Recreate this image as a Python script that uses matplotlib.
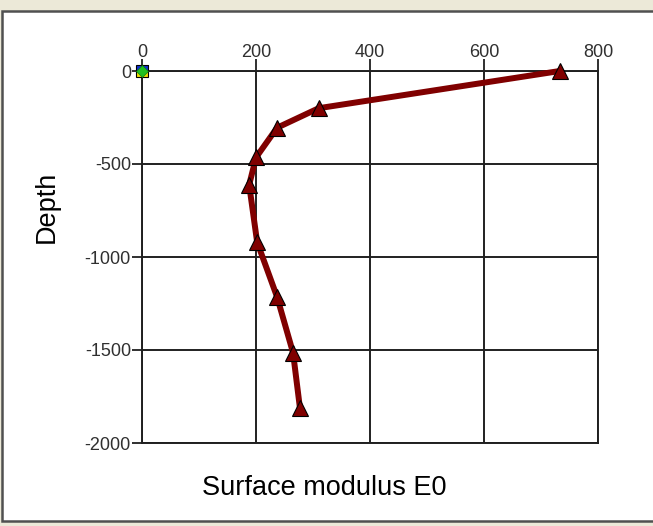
import matplotlib
matplotlib.use("Agg")
from matplotlib import pyplot as plt
from matplotlib.patches import Rectangle

plt.rcParams['font.family'] = ['Liberation Sans', 'DejaVu Sans']

# Surface modulus profile against depth
modulus = [733, 310, 237, 200, 188, 202, 237, 265, 277]
depth = [0, -200, -305, -465, -612, -920, -1215, -1515, -1810]

x_ticks = [0, 200, 400, 600, 800]
y_ticks = [0, -500, -1000, -1500, -2000]

W, H = 653, 526
fig = plt.figure(figsize=(W / 100, H / 100), dpi=100)
fig.patch.set_facecolor('#ECE9D8')

# white chart panel with dark border
panel = Rectangle((2 / W, 5 / H), 1.0, 1 - 16 / H, transform=fig.transFigure,
                  facecolor='white', edgecolor='#505050', linewidth=1.8, zorder=-5)
fig.patches.append(panel)

ax = fig.add_axes([142 / W, 1 - 443 / H, (598 - 142) / W, (443 - 71) / H])
ax.set_zorder(2)
ax.set_facecolor('white')

ax.plot(modulus, depth, color='#800000', linewidth=4.3, zorder=3,
        marker='^', markersize=11, markerfacecolor='#800000',
        markeredgecolor='black', markeredgewidth=0.8, clip_on=False)

# reference symbol at the origin
ax.plot([0], [0], marker='s', markersize=8, markerfacecolor='#1030D0',
        markerfacecoloralt='#F0E000', fillstyle='top', markeredgecolor='black',
        markeredgewidth=0.8, linestyle='none', zorder=4, clip_on=False)
ax.plot([0], [0], marker='D', markersize=6, color='#20C020',
        markeredgecolor='#108010', markeredgewidth=0.5, linestyle='none',
        zorder=5, clip_on=False)

ax.set_xlim(0, 800)
ax.set_ylim(-2000, 0)
ax.set_xticks(x_ticks)
ax.set_xticklabels([str(v) for v in x_ticks])
ax.set_yticks(y_ticks)
ax.set_yticklabels([str(v) for v in y_ticks])

ax.xaxis.tick_top()
ax.tick_params(axis='x', direction='out', length=9, width=1.3, pad=-1.5,
               labelsize=13, colors='#202020', labelcolor='#303030',
               top=True, bottom=False)
ax.tick_params(axis='y', direction='out', length=7, width=1.3, pad=1,
               labelsize=13, colors='#202020', labelcolor='#303030')
ax.grid(True, color='#202020', linewidth=1.4)
ax.set_axisbelow(True)
for s in ax.spines.values():
    s.set_color('#202020')
    s.set_linewidth(1.4)

fig.text(324 / W, 1 - 488 / H, 'Surface modulus E0', fontsize=19.5,
         ha='center', va='center')
fig.text(47 / W, 1 - 207 / H, 'Depth', fontsize=19.5, rotation=90,
         ha='center', va='center')

fig.savefig('out.png', dpi=100, facecolor=fig.get_facecolor())
